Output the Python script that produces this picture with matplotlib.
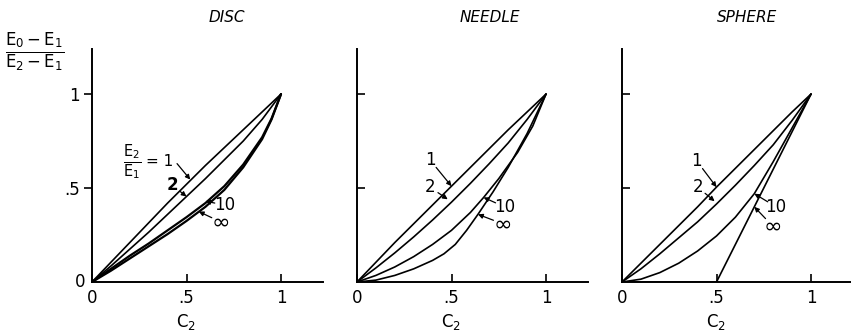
import matplotlib
matplotlib.use("Agg")
import matplotlib.pyplot as plt

plt.rcParams["font.family"] = "DejaVu Sans"
plt.rcParams["mathtext.default"] = "regular"

# curves: x = C2, y = (E0-E1)/(E2-E1)
xs = [0, 0.1, 0.2, 0.3, 0.4, 0.5, 0.6, 0.7, 0.8, 0.9, 1]

disc_x = {
    "1": xs,
    "2": xs,
    "10": [0, 0.1, 0.2, 0.3, 0.4, 0.5, 0.6, 0.7, 0.8, 0.9, 0.95, 1],
    "inf": [0, 0.1, 0.2, 0.3, 0.4, 0.5, 0.6, 0.7, 0.8, 0.9, 0.95, 1],
}
disc_y = {
    "1": [0, 0.105, 0.21, 0.315, 0.42, 0.52, 0.62, 0.715, 0.81, 0.905, 1],
    "2": [0, 0.085, 0.175, 0.265, 0.36, 0.455, 0.55, 0.65, 0.75, 0.865, 1],
    "10": [0, 0.07, 0.14, 0.205, 0.275, 0.345, 0.42, 0.51, 0.625, 0.77, 0.87, 1],
    "inf": [0, 0.06, 0.125, 0.19, 0.255, 0.325, 0.40, 0.49, 0.61, 0.76, 0.865, 1],
}

needle_x = {
    "1": xs,
    "2": xs,
    "10": [0, 0.1, 0.2, 0.3, 0.4, 0.5, 0.6, 0.67, 0.75, 0.85, 0.93, 1],
    "inf": [0, 0.1, 0.2, 0.3, 0.4, 0.46, 0.52, 0.58, 0.64, 0.72, 0.8, 0.9, 1],
}
needle_y = {
    "1": [0, 0.105, 0.21, 0.31, 0.41, 0.51, 0.61, 0.71, 0.81, 0.905, 1],
    "2": [0, 0.075, 0.155, 0.24, 0.33, 0.425, 0.525, 0.63, 0.74, 0.865, 1],
    "10": [0, 0.035, 0.08, 0.135, 0.2, 0.275, 0.37, 0.45, 0.55, 0.69, 0.83, 1],
    "inf": [0, 0.01, 0.035, 0.07, 0.115, 0.15, 0.2, 0.275, 0.36, 0.48, 0.61, 0.79, 1],
}

sphere_x = {
    "1": xs,
    "2": xs,
    "10": xs,
    "inf": [0, 0.5, 1],
}
sphere_y = {
    "1": [0, 0.1, 0.2, 0.3, 0.4, 0.505, 0.605, 0.705, 0.805, 0.905, 1],
    "2": [0, 0.07, 0.15, 0.235, 0.32, 0.415, 0.515, 0.62, 0.73, 0.86, 1],
    "10": [0, 0.015, 0.05, 0.1, 0.165, 0.245, 0.345, 0.47, 0.64, 0.82, 1],
    "inf": [0, 0, 1],
}

titles = ["DISC", "NEEDLE", "SPHERE"]
all_x = [disc_x, needle_x, sphere_x]
all_y = [disc_y, needle_y, sphere_y]

# curve labels: (text, text position, arrow tip) in data units
labels = [
    [("2", (0.425, 0.515), (0.50, 0.455)),
     ("10", (0.70, 0.41), (0.60, 0.43)),
     (r"$\infty$", (0.68, 0.32), (0.565, 0.375))],
    [("1", (0.386, 0.65), (0.50, 0.51)),
     ("2", (0.386, 0.505), (0.48, 0.44)),
     ("10", (0.78, 0.40), (0.67, 0.45)),
     (r"$\infty$", (0.77, 0.31), (0.64, 0.36))],
    [("1", (0.395, 0.645), (0.50, 0.505)),
     ("2", (0.40, 0.505), (0.49, 0.43)),
     ("10", (0.815, 0.40), (0.70, 0.47)),
     (r"$\infty$", (0.795, 0.30), (0.70, 0.40))],
]

fig = plt.figure(figsize=(8.51, 3.35), dpi=100)
lefts = [92 / 851, 357 / 851, 622 / 851]
xmax = [1.22, 1.22, 1.21]
bottom = 53 / 335
height = 233 / 335

for i in range(3):
    w = xmax[i] * 189 / 851
    ax = fig.add_axes([lefts[i], bottom, w, height])
    ax.set_xlim(0, xmax[i])
    ax.set_ylim(0, 1.24)
    for s in ["top", "right"]:
        ax.spines[s].set_visible(False)
    for s in ["left", "bottom"]:
        ax.spines[s].set_linewidth(1.4)

    for key in ["1", "2", "10", "inf"]:
        lw = 1.6 if (i == 0 and key in ("10", "inf")) else 1.2
        ax.plot(all_x[i][key], all_y[i][key], color="black", lw=lw,
                solid_capstyle="round", solid_joinstyle="round")

    ax.set_xticks([0, 0.5, 1])
    ax.set_xticklabels(["0", ".5", "1"], fontsize=12)
    ax.tick_params(axis="x", direction="in", length=6, width=1.2, pad=5)
    ax.set_yticks([0.5, 1])
    if i == 0:
        ax.set_yticklabels([".5", "1"], fontsize=12)
        ax.tick_params(axis="y", direction="out", length=6, width=1.2, pad=3)
        ax.text(-0.035, 0, "0", fontsize=12, ha="right", va="center")
    else:
        ax.set_yticklabels([])
        ax.tick_params(axis="y", direction="in", length=6, width=1.2)

    ax.set_xlabel("C$_2$", fontsize=12)
    ax.xaxis.set_label_coords(0.5 / xmax[i], -0.13)

    for txt, tpos, tip in labels[i]:
        ax.annotate("", xy=tip, xytext=tpos,
                    arrowprops=dict(arrowstyle="-|>", color="black", lw=0.9,
                                    mutation_scale=7, shrinkA=7, shrinkB=0))
        big = txt.startswith("$")
        bold = (i == 0 and txt == "2")
        ax.text(tpos[0], tpos[1], txt, fontsize=16 if big else 12,
                fontweight="bold" if bold else "normal",
                ha="center", va="center")

    if i == 0:
        ax.text(0.21, 0.64, r"$\frac{E_2}{E_1}$", fontsize=15, ha="center", va="center")
        ax.text(0.36, 0.64, "= 1", fontsize=11, ha="center", va="center")
        ax.annotate("", xy=(0.52, 0.545), xytext=(0.45, 0.63),
                    arrowprops=dict(arrowstyle="-|>", color="black", lw=0.9,
                                    mutation_scale=7, shrinkA=0, shrinkB=0))

    fig.text((lefts[i] * 851 + [135, 133, 125][i]) / 851, 1 - 18 / 335,
             titles[i], fontsize=11, style="italic", ha="center", va="center")

fig.text(35 / 851, 1 - 52 / 335, r"$\frac{E_0 - E_1}{E_2 - E_1}$",
         fontsize=17, ha="center", va="center")

fig.savefig("out.png", dpi=100)
